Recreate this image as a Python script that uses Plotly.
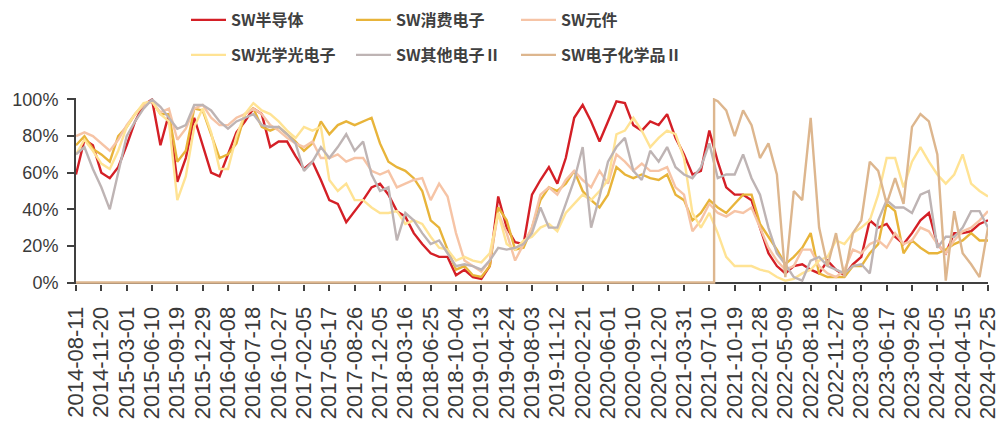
import pandas as pd
import plotly.graph_objects as go

tick_labels = ["2014-08-11", "2014-11-20", "2015-03-01", "2015-06-10", "2015-09-19", "2015-12-29",
               "2016-04-08", "2016-07-18", "2016-10-27", "2017-02-05", "2017-05-17", "2017-08-26",
               "2017-12-05", "2018-03-16", "2018-06-25", "2018-10-04", "2019-01-13", "2019-04-24",
               "2019-08-03", "2019-11-12", "2020-02-21", "2020-06-01", "2020-09-10", "2020-12-20",
               "2021-03-31", "2021-07-10", "2021-10-19", "2022-01-28", "2022-05-09", "2022-08-18",
               "2022-11-27", "2023-03-08", "2023-06-17", "2023-09-26", "2024-01-05", "2024-04-15",
               "2024-07-25"]

# sampling dates: three samples per tick interval
dates = pd.date_range(tick_labels[0], tick_labels[-1], periods=109)

semis = [59, 78, 75, 60, 57, 63, 75, 88, 97, 100, 75, 92, 55, 68, 90, 75, 60, 58, 70, 82, 88,
         95, 92, 74, 77, 77, 69, 62, 66, 56, 45, 43, 33, 39, 45, 52, 54, 48, 39, 36, 27, 21,
         16, 14, 14, 4, 7, 3, 2, 9, 47, 30, 22, 21, 48, 56, 63, 54, 68, 90, 97, 88, 77,
         88, 99, 98, 86, 83, 88, 86, 92, 79, 70, 59, 61, 83, 66, 52, 48, 48, 45, 30, 16, 9,
         5, 9, 10, 7, 5, 12, 7, 4, 10, 14, 34, 30, 32, 25, 21, 27, 34, 38, 21, 16, 27,
         27, 28, 32, 34]

consumer = [75, 80, 73, 70, 66, 80, 85, 92, 97, 99, 92, 92, 66, 72, 95, 94, 81, 68, 70, 76, 92,
            95, 85, 83, 85, 81, 77, 72, 76, 88, 81, 86, 88, 86, 88, 90, 76, 66, 63, 61, 57, 50,
            34, 30, 18, 7, 9, 4, 3, 9, 41, 34, 18, 19, 30, 45, 52, 50, 54, 61, 50, 45, 41,
            48, 63, 59, 57, 59, 57, 56, 59, 48, 45, 34, 38, 45, 41, 38, 43, 48, 48, 32, 25, 18,
            10, 14, 19, 27, 5, 3, 3, 3, 9, 9, 16, 21, 43, 39, 16, 23, 19, 16, 16, 18, 21,
            23, 27, 23, 23]

components = [80, 82, 80, 76, 72, 78, 86, 92, 97, 99, 93, 95, 78, 84, 95, 97, 90, 86, 86, 90, 92,
              95, 92, 86, 83, 79, 76, 74, 77, 68, 68, 70, 66, 68, 68, 61, 59, 61, 52, 54, 56, 57,
              45, 54, 47, 27, 12, 9, 6, 12, 38, 27, 12, 21, 30, 48, 52, 48, 56, 61, 56, 52, 61,
              54, 70, 66, 61, 65, 61, 61, 63, 52, 48, 28, 34, 43, 38, 36, 39, 38, 41, 30, 19, 12,
              7, 9, 18, 18, 9, 5, 3, 7, 18, 16, 21, 23, 19, 27, 21, 23, 30, 28, 21, 16, 23,
              28, 30, 34, 39]

optical = [70, 78, 72, 65, 62, 72, 85, 92, 98, 99, 92, 88, 45, 58, 85, 95, 82, 62, 62, 80, 92,
           98, 94, 92, 88, 83, 79, 85, 83, 85, 56, 50, 54, 45, 45, 41, 38, 38, 39, 32, 34, 32,
           25, 19, 18, 12, 14, 12, 11, 16, 38, 21, 18, 23, 25, 30, 32, 28, 38, 43, 48, 45, 50,
           56, 81, 83, 90, 83, 74, 79, 83, 81, 68, 38, 30, 38, 27, 14, 9, 9, 9, 7, 6, 3,
           1, 2, 5, 7, 12, 14, 23, 21, 27, 30, 34, 48, 68, 68, 52, 66, 74, 66, 59, 54, 59,
           70, 54, 50, 47]

other = [70, 74, 62, 52, 40, 60, 80, 88, 95, 100, 96, 90, 84, 86, 97, 97, 94, 88, 84, 88, 90,
         92, 86, 85, 85, 81, 76, 61, 66, 74, 68, 74, 81, 72, 77, 59, 50, 52, 23, 38, 34, 27,
         21, 23, 16, 9, 10, 9, 7, 12, 19, 18, 19, 21, 27, 41, 30, 30, 43, 56, 74, 30, 47,
         66, 74, 79, 61, 56, 72, 66, 74, 63, 59, 57, 63, 76, 57, 59, 59, 70, 57, 48, 30, 16,
         10, 3, 1, 12, 14, 9, 7, 5, 9, 10, 5, 34, 45, 41, 41, 38, 48, 50, 19, 25, 25,
         30, 39, 39, 30]

# SW电子化学品II: zero before the index starts, then values on the sampling grid
chem_start = ["2014-08-11", "2021-07-29", "2021-07-29"]
chem_start_values = [0, 0, 100]
chem_values = [99, 94, 80, 94, 86, 68, 76, 59, 3, 50, 45, 90, 30, 9, 27, 3, 27, 34, 66, 61,
               43, 57, 43, 85, 92, 88, 70, 1, 39, 16, 10, 3, 30]
chem_x = list(pd.to_datetime(chem_start)) + list(dates[76:])
chem_y = chem_start_values + chem_values

names = ["SW半导体", "SW消费电子", "SW元件", "SW光学光电子", "SW其他电子Ⅱ", "SW电子化学品Ⅱ"]
colors = ["#D41F26", "#E8B43A", "#F6C4A6", "#FFE394", "#BEB4B4", "#DDB68E"]
series = [semis, consumer, components, optical, other, chem_y]
xs = [dates, dates, dates, dates, dates, chem_x]

fig = go.Figure()
legend_ids = ["legend", "legend2", "legend3", "legend4", "legend5", "legend6"]
for i in range(6):
    fig.add_trace(go.Scatter(x=xs[i], y=series[i], mode="lines", name=names[i],
                             line=dict(color=colors[i], width=2.4),
                             legend=legend_ids[i], hoverinfo="skip"))

W, H = 1006, 421
ml, mr, mt, mb = 76, 18, 98, 137
pw, ph = W - ml - mr, H - mt - mb
leg_font = dict(family="Noto Sans CJK SC", size=16, color="#404040", weight="bold")
leg_cols = [186, 351, 516]
leg_rows = [20, 55]
legends = {}
for i, lid in enumerate(legend_ids):
    px = leg_cols[i % 3]
    py = leg_rows[i // 3]
    legends[lid] = dict(x=(px - ml) / pw, y=1 + (mt - py) / ph, xanchor="left", yanchor="middle",
                        font=leg_font, bgcolor="rgba(0,0,0,0)", itemwidth=35,
                        orientation="h")
fig.update_layout(**legends)

fig.update_layout(
    width=W, height=H,
    margin=dict(l=ml, r=mr, t=mt, b=mb, pad=0, autoexpand=False),
    paper_bgcolor="white", plot_bgcolor="white",
    showlegend=True,
    xaxis=dict(type="date", range=[tick_labels[0], tick_labels[-1]],
               tickvals=tick_labels, ticktext=tick_labels, tickangle=-90,
               showline=False, showgrid=False, zeroline=False,
               ticks="outside", ticklen=6, tickwidth=2, tickcolor="#404040",
               ticklabelstandoff=7,
               tickfont=dict(family="Liberation Sans", size=22, color="#3A3A3A"),
               automargin=False, layer="below traces"),
    yaxis=dict(range=[-0.8, 100.8], tickvals=[0, 20, 40, 60, 80, 100],
               ticktext=["0%", "20%", "40%", "60%", "80%", "100%"],
               showline=True, linewidth=2, linecolor="#404040", showgrid=False,
               zeroline=True, zerolinecolor="#404040", zerolinewidth=2,
               ticks="outside", ticklen=7, tickwidth=2, tickcolor="#404040",
               ticklabelstandoff=5,
               tickfont=dict(family="Liberation Sans", size=18, color="#3A3A3A"),
               automargin=False),
)

fig.write_html("out.html")
